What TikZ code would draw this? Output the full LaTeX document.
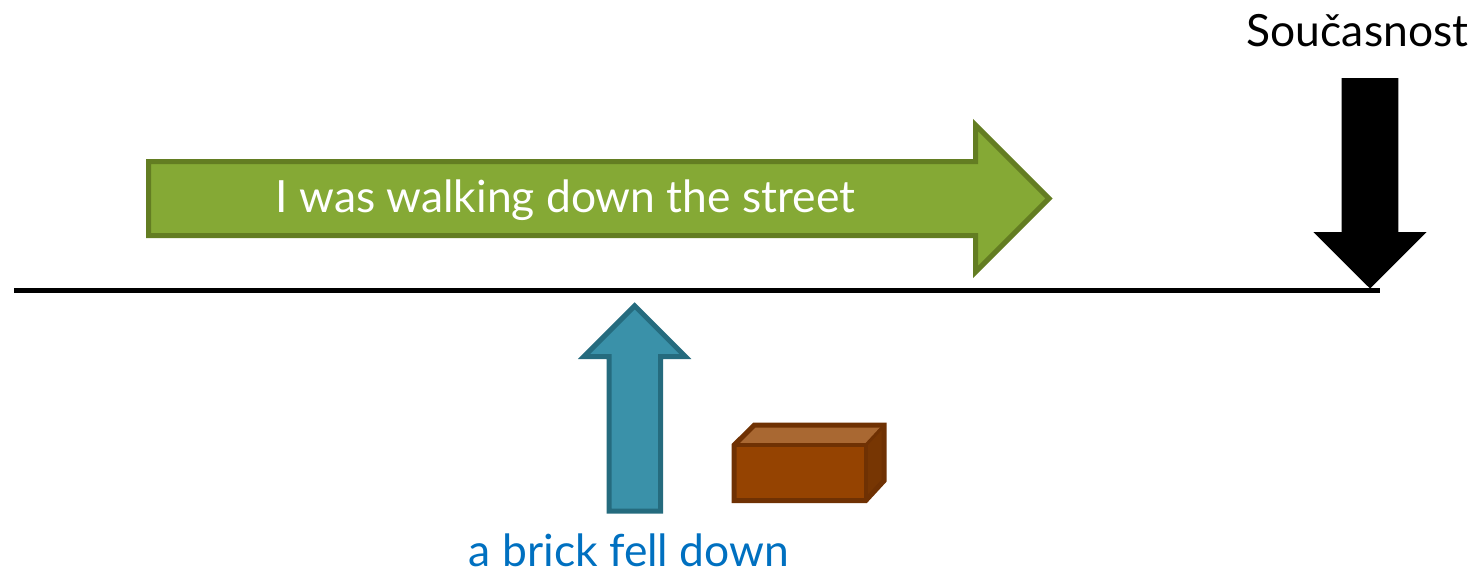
\documentclass[tikz,border=0pt]{standalone}
\usepackage{fontspec}
\setmainfont{Lato}
\usetikzlibrary{positioning}
\definecolor{LeafFill}{HTML}{85A935}
\definecolor{LeafEdge}{HTML}{637D22}
\definecolor{RiverFill}{HTML}{3A91A9}
\definecolor{RiverEdge}{HTML}{256B7E}
\definecolor{LabelBlue}{HTML}{0070C0}
\definecolor{BrickFront}{HTML}{954301}
\definecolor{BrickTop}{HTML}{A96832}
\definecolor{BrickSide}{HTML}{773603}
\definecolor{BrickEdge}{HTML}{6F3103}
\tikzset{
  timeline/.style={line width=5.5pt, draw=black},
  longarrow/.style={line width=5pt, draw=LeafEdge, fill=LeafFill, miter limit=10},
  eventarrow/.style={line width=5pt, draw=RiverEdge, fill=RiverFill, miter limit=10},
  nowarrow/.style={fill=black},
  brickface/.style={line width=5pt, draw=BrickEdge, miter limit=10, line join=miter},
  caption/.style={inner sep=0pt, anchor=base, font=\fontsize{44.4}{50}\selectfont}
}
\begin{document}
\begin{tikzpicture}[x=1pt,y=-1pt]
        \useasboundingbox (0,0) rectangle (1483,574);
        % time axis
        \coordinate (start) at (14,290.5);
        \coordinate (end) at (1379.5,290.5);
        \draw[timeline] (start)--(end);
        % ongoing action
        \draw[longarrow] (148.5,161.5)--(975.5,161.5)--(975.5,125)--(1049,198.5)
          --(975.5,272)--(975.5,235.5)--(148.5,235.5)--cycle;
        \node[caption,text=white] (walking) at (565.5,212) {I was walking down the street};
        % now
        \fill[nowarrow] (1341.7,78)--(1398.3,78)--(1398.3,232)--(1426.7,232)--(1370,288.5)
          --(1313.3,232)--(1341.7,232)--cycle;
        \node[caption,text=black] (now) at (1357.5,46) {Současnost};
        % single event
        \draw[eventarrow] (609.2,511)--(609.2,356.5)--(584,356.5)--(634.7,305.8)
          --(685.4,356.5)--(660.5,356.5)--(660.5,511)--cycle;
        \node[caption,text=LabelBlue] (brickfell) at (629,566) {a brick fell down};
        % brick
        \fill[BrickFront] (734.2,445) rectangle (865.8,500.5);
        \fill[BrickTop] (734.2,445)--(754.2,425.2)--(884.2,425.2)--(865.8,445)--cycle;
        \fill[BrickSide] (865.8,445)--(884.2,425.2)--(884.2,480.5)--(865.8,500.5)--cycle;
        \draw[brickface] (734.2,445)--(754.2,425.2)--(884.2,425.2)--(884.2,480.5)
          --(865.8,500.5)--(734.2,500.5)--cycle;
        \draw[line width=3.5pt,draw=BrickEdge] (734.2,445)--(865.8,445)--(865.8,500.5);
        \draw[line width=3pt,draw=BrickEdge] (865.8,445)--(884.2,425.2);
      \end{tikzpicture}
\end{document}
